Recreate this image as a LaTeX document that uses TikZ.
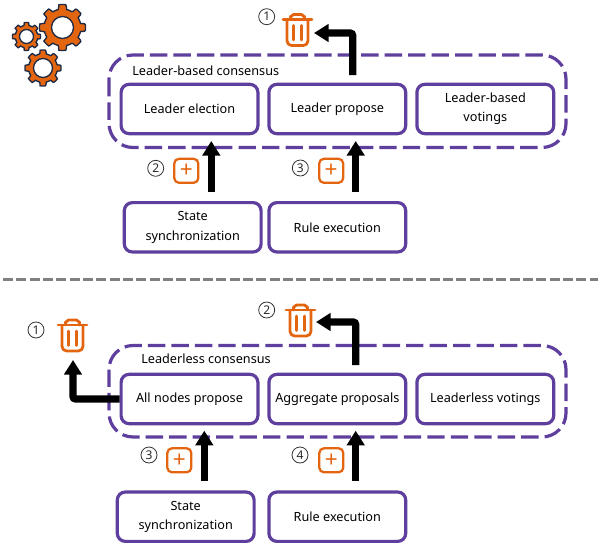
\documentclass[tikz,border=0pt]{standalone}
\usepackage{fontspec}
\setmainfont{Noto Sans}
\usetikzlibrary{arrows.meta}
\definecolor{purp}{HTML}{5F3F9E}
\definecolor{orng}{HTML}{E4650F}
\definecolor{gdark}{HTML}{1F2A44}
\tikzset{
  x=0.75pt,y=-0.75pt,
  box/.style={draw=purp,line width=2.4pt,rounded corners=6pt,fill=white,align=center,font=\fontsize{9.5}{14.5}\selectfont,inner sep=0pt,minimum width=102.6pt,minimum height=37pt},
  outer/.style={draw=purp,line width=2.4pt,rounded corners=18pt,dash pattern=on 13pt off 4.6pt},
  title/.style={font=\fontsize{9.5}{12}\selectfont,inner sep=0pt},
  num/.style={circle,draw=black!80,line width=0.6pt,minimum size=12pt,inner sep=0pt,text=black!85,font=\fontsize{9}{9}\selectfont},
  plusbox/.style={draw=orng,line width=1.7pt,rounded corners=3.5pt,minimum size=18pt,inner sep=0pt,text=orng,font=\fontsize{17}{17}\selectfont},
  arr/.style={line width=5.5pt,-{Triangle[width=13pt,length=11pt]},rounded corners=2pt},
}
\newcommand{\gearicon}[4]{% x y router rhole
  \filldraw[fill=orng,draw=gdark,line width=1pt,even odd rule]
    plot[smooth cycle,tension=0.15,samples=145,domain=0:357.5,shift={(#1,#2)}] ({\x}:{#3*0.8+#3*0.2*min(1,max(0,2.2*cos(8*\x)+0.4))}) 
    (#1,#2) circle[x radius=#4*0.75pt,y radius=#4*0.75pt];
}
\newcommand{\trashicon}[2]{% cx lidy
  \begin{scope}[shift={(#1,#2)},draw=orng,line width=2.1pt,line cap=round,line join=round]
    \draw (-14.5,0) -- (14.5,0);
    \draw (-7,0) -- (-7,-3) to[out=-90,in=180] (-4,-5) -- (4,-5) to[out=0,in=-90] (7,-3) -- (7,0);
    \draw[rounded corners=3.5pt] (-10.5,0) -- (-10.5,26) -- (10.5,26) -- (10.5,0);
    \draw (-4.2,6) -- (-4.2,20.5);
    \draw (4.2,6) -- (4.2,20.5);
  \end{scope}
}
\begin{document}
\begin{tikzpicture}
\useasboundingbox (0,0) rectangle (600,546);
% gears
\gearicon{62.5}{27.5}{23}{11}
\gearicon{26.5}{36.5}{14}{7}
\gearicon{43}{68}{18}{9.5}
% top
\draw[outer] (109,55) rectangle (566,147.5);
\node[title,anchor=west] (t1) at (132,71) {Leader-based consensus};
\node[box] (le) at (189.5,109) {Leader election};
\node[box] (lp) at (337.3,109) {Leader propose};
\node[box] (lv) at (485.3,109) {Leader-based\\votings};
\node[box] (ss) at (192.7,227.3) {State\\synchronization};
\node[box] (re) at (337.3,227.3) {Rule execution};
\coordinate (s1) at (211.3,191.7);
\coordinate (e1) at (211.3,141);
\coordinate (s2) at (355.7,191.7);
\coordinate (e2) at (355.7,141);
\coordinate (s3) at (352.7,75);
\coordinate (b3) at (352.7,33);
\coordinate (e3) at (314,33);
\draw[arr] (s1) -- (e1);
\draw[arr] (s2) -- (e2);
\draw[arr] (s3) -- (b3) -- (e3);
\trashicon{297.5}{19.5}
\node[num] (n1) at (266.7,16.7) {1};
\node[num] (n2) at (155.7,168.3) {2};
\node[num] (n3) at (300.3,168) {3};
\node[plusbox] (p1) at (186.3,170.8) {+};
\node[plusbox] (p2) at (331.2,170.8) {+};
% separator
\draw[draw=black!50,line width=2.6pt,dash pattern=on 7.5pt off 2.5pt] (3,279.5) -- (598,279.5);
% bottom
\draw[outer] (109,345.5) rectangle (566,437);
\node[title,anchor=west] (t2) at (141,359) {Leaderless consensus};
\node[box] (an) at (189.5,399) {All nodes propose};
\node[box] (ap) at (337.3,399) {Aggregate proposals};
\node[box] (lv2) at (485.3,399) {Leaderless votings};
\node[box] (ss2) at (185.7,516.7) {State\\synchronization};
\node[box] (re2) at (337.3,516.7) {Rule execution};
\coordinate (s4) at (204.3,480.7);
\coordinate (e4) at (204.3,430.7);
\coordinate (s5) at (355.7,480.7);
\coordinate (e5) at (355.7,430.7);
\coordinate (s6) at (355.7,365);
\coordinate (b6) at (355.7,322);
\coordinate (e6) at (316,322);
\coordinate (e7) at (73,360);
\draw[arr] (an.west) -| (e7);
\draw[arr] (s4) -- (e4);
\draw[arr] (s5) -- (e5);
\draw[arr] (s6) -- (b6) -- (e6);
\trashicon{72.5}{325}
\trashicon{300.5}{310}
\node[num] (n4) at (36,330) {1};
\node[num] (n5) at (266.7,310) {2};
\node[num] (n6) at (149,455) {3};
\node[num] (n7) at (300,455) {4};
\node[plusbox] (p3) at (179.3,460.3) {+};
\node[plusbox] (p4) at (331.3,460.3) {+};
\end{tikzpicture}
\end{document}
